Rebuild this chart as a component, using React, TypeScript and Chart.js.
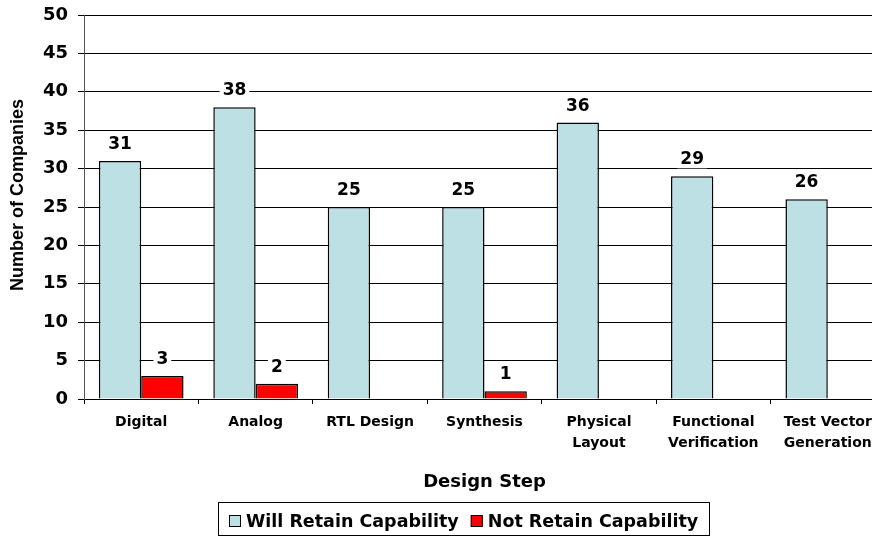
import React, { useEffect, useRef } from 'react';
import { Chart, registerables } from 'chart.js';

Chart.register(...registerables);

const categories: (string | string[])[] = [
  'Digital',
  'Analog',
  'RTL Design',
  'Synthesis',
  ['Physical', 'Layout'],
  ['Functional', 'Verification'],
  ['Test Vector', 'Generation'],
];
const willRetain = [31, 38, 25, 25, 36, 29, 26];
const notRetain: (number | null)[] = [3, 2, null, 1, null, null, null];
const seriesNames = ['Will Retain Capability', 'Not Retain Capability'];
const seriesColors = ['#BCE0E3', '#FF0000'];
const yMin = 0;
const yMax = 50;
const yStep = 5;
const xTitle = 'Design Step';
const yTitle = 'Number of Companies';

const FONT = '"DejaVu Sans", sans-serif';

const valueLabels = {
  id: 'valueLabels',
  afterDatasetsDraw(chart: any) {
    const ctx = chart.ctx;
    ctx.save();
    ctx.font = `bold 17px ${FONT}`;
    ctx.textAlign = 'center';
    ctx.textBaseline = 'alphabetic';
    chart.data.datasets.forEach((ds: any, i: number) => {
      const meta = chart.getDatasetMeta(i);
      meta.data.forEach((el: any, j: number) => {
        const v = ds.data[j];
        if (v === null || v === undefined || v === 0) return;
        const txt = String(v);
        const w = ctx.measureText(txt).width;
        const base = el.y - 12;
        ctx.fillStyle = '#fff';
        ctx.fillRect(el.x - w / 2 - 3, base - 17, w + 6, 21);
        ctx.fillStyle = '#000';
        ctx.fillText(txt, el.x, base);
      });
    });
    ctx.restore();
  },
};

const extras = {
  id: 'extras',
  afterDraw(chart: any) {
    const ctx = chart.ctx;
    ctx.save();
    // y axis title
    ctx.font = `bold 18px "Liberation Sans", Arial, sans-serif`;
    ctx.fillStyle = '#000';
    ctx.textAlign = 'center';
    ctx.textBaseline = 'middle';
    ctx.translate(18, 195);
    ctx.rotate(-Math.PI / 2);
    ctx.fillText(yTitle, 0, 0);
    ctx.restore();

    // legend
    ctx.save();
    ctx.font = `bold 17.5px ${FONT}`;
    ctx.textBaseline = 'alphabetic';
    ctx.textAlign = 'left';
    const names = chart.data.datasets.map((d: any) => d.label);
    const widths = names.map((n: string) => ctx.measureText(n).width);
    const sw = 12;
    const gapSwText = 5;
    const gapItems = 12;
    const padL = 11;
    const padR = 11;
    let content = 0;
    widths.forEach((w: number, i: number) => {
      content += sw + gapSwText + w + (i < widths.length - 1 ? gapItems : 0);
    });
    const boxW = padL + content + padR;
    const center = 464;
    const left = Math.round(center - boxW / 2);
    const top = 502;
    const boxH = 33;
    ctx.strokeStyle = '#000';
    ctx.lineWidth = 1;
    ctx.strokeRect(left + 0.5, top + 0.5, Math.round(boxW), boxH);
    let x = left + padL;
    chart.data.datasets.forEach((d: any, i: number) => {
      ctx.fillStyle = d.backgroundColor;
      ctx.fillRect(x, 515, sw, sw);
      ctx.strokeStyle = '#000';
      ctx.strokeRect(x + 0.5, 515.5, sw - 1, sw - 1);
      x += sw + gapSwText;
      ctx.fillStyle = '#000';
      ctx.fillText(names[i], x, 527);
      x += widths[i] + gapItems;
    });
    ctx.restore();
  },
};

export default function App() {
  const ref = useRef<HTMLCanvasElement>(null);
  useEffect(() => {
    if (!ref.current) return;
    const chart = new Chart(ref.current, {
      type: 'bar',
      data: {
        labels: categories as any,
        datasets: [
          {
            label: seriesNames[0],
            data: willRetain,
            backgroundColor: seriesColors[0],
            borderColor: '#000',
            borderWidth: 1.5,
            categoryPercentage: 0.74,
            barPercentage: 1.0,
          },
          {
            label: seriesNames[1],
            data: notRetain as any,
            backgroundColor: seriesColors[1],
            borderColor: '#000',
            borderWidth: 1.5,
            categoryPercentage: 0.74,
            barPercentage: 1.0,
          },
        ],
      },
      options: {
        responsive: false,
        animation: false,
        devicePixelRatio: 1,
        layout: { padding: { left: 0, right: 0, top: 15, bottom: 44 } },
        plugins: {
          legend: { display: false },
          tooltip: { enabled: false },
        },
        scales: {
          x: {
            grid: {
              display: true,
              drawOnChartArea: false,
              drawTicks: true,
              tickLength: 5,
              color: '#000',
              offset: true,
            },
            border: { display: true, color: '#000', width: 1 },
            ticks: {
              font: { family: FONT, weight: 'bold', size: 14, lineHeight: 1.48 },
              color: '#000',
              padding: 8,
              maxRotation: 0,
              autoSkip: false,
            },
            title: {
              display: true,
              text: xTitle,
              font: { family: FONT, weight: 'bold', size: 18, lineHeight: 1.2 },
              color: '#000',
              padding: 0,
            },
            afterFit: (s: any) => {
              s.height = 94;
              s.paddingLeft = 0;
              s.paddingRight = 0;
            },
          },
          y: {
            min: yMin,
            max: yMax,
            ticks: {
              stepSize: yStep,
              font: { family: FONT, weight: 'bold', size: 18 },
              color: '#000',
              padding: 10,
            },
            grid: { color: '#000', tickLength: 6, lineWidth: 1 },
            border: { display: true, color: '#555', width: 1 },
            afterFit: (s: any) => {
              s.width = 84;
              s.paddingTop = 0;
              s.paddingBottom = 0;
            },
          },
        },
      } as any,
      plugins: [valueLabels, extras],
    });
    return () => chart.destroy();
  }, []);

  return (
    <div
      style={{
        position: 'fixed',
        left: 0,
        top: 0,
        width: 872,
        height: 537,
        overflow: 'hidden',
        background: '#fff',
      }}
    >
      <canvas ref={ref} width={885} height={537} style={{ display: 'block', width: 885, height: 537 }} />
    </div>
  );
}
